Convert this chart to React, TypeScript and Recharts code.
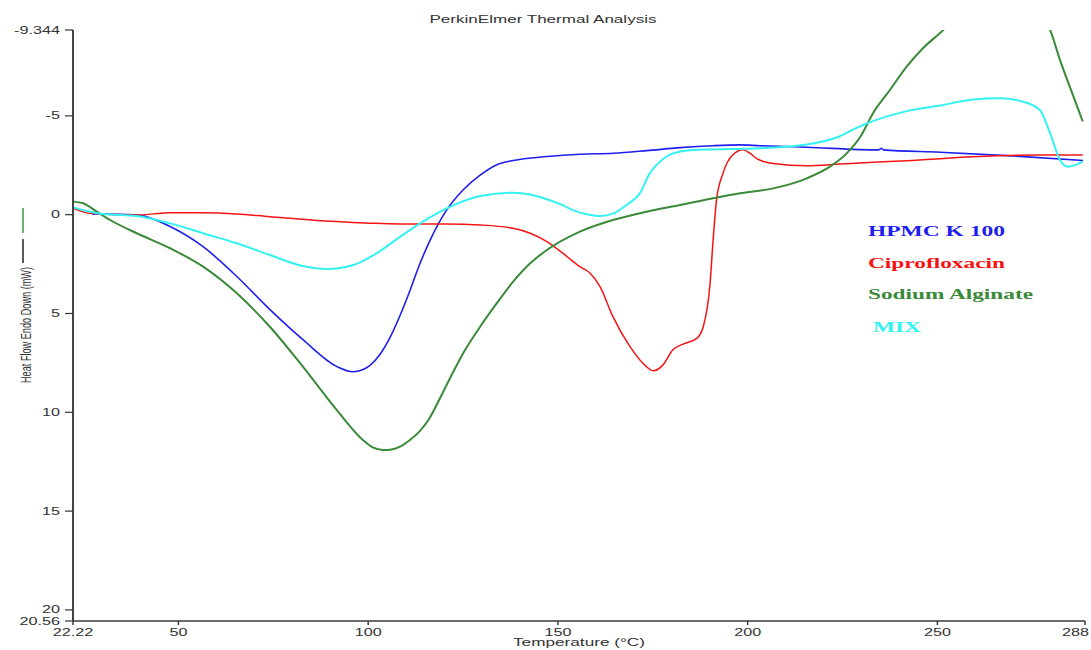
import { LineChart, Line, XAxis, YAxis, Legend } from "recharts";

// axis ticks (temperature in °C, heat flow in mW; y runs downwards = endo down)
const X_TICKS = [22.22, 50, 100, 150, 200, 250, 288.9];
const X_TICK_LABELS = ["22.22", "50", "100", "150", "200", "250", "288"];
const Y_TICKS = [-9.344, -5, 0, 5, 10, 15, 20, 20.56];
const Y_TICK_LABELS = ["-9.344", "-5", "0", "5", "10", "15", "20", "20.56"];

// HPMC K 100
const HPMC_T = [27.2, 39.1, 47.8, 56.5, 65.4, 74.2, 82.9, 91.8, 96.0, 98.5, 100.5, 103.2, 105.8, 108.4, 111.0, 113.5, 116.3, 120.7, 125.0, 129.5, 133.9, 138.2, 147.1, 155.9, 164.6, 173.4, 182.2, 190.9, 198.0, 203.3, 215.6, 234.6, 235.2, 235.8, 250.7, 268.3, 288.4];
const HPMC_Y = [-0.04, 0.02, 0.6, 1.62, 3.13, 4.82, 6.34, 7.69, 7.95, 7.85, 7.62, 7.05, 6.2, 5.1, 3.85, 2.55, 1.3, -0.24, -1.25, -2.0, -2.53, -2.74, -2.94, -3.06, -3.11, -3.24, -3.39, -3.49, -3.53, -3.49, -3.41, -3.28, -3.36, -3.28, -3.16, -2.99, -2.74];

// Ciprofloxacin
const CIPRO_T = [22.3, 26.7, 39.0, 47.8, 56.5, 65.4, 74.1, 82.8, 91.7, 100.5, 108.4, 120.7, 129.5, 138.2, 142.7, 147.1, 151.3, 155.8, 158.5, 161.1, 164.5, 169.0, 173.4, 175.1, 177.7, 180.3, 183.0, 186.6, 188.3, 190.1, 190.9, 191.8, 193.5, 196.1, 198.8, 200.6, 202.4, 206.7, 215.6, 224.3, 233.0, 241.9, 259.4, 277.0, 288.3];
const CIPRO_Y = [-0.32, -0.07, 0.02, -0.1, -0.1, -0.04, 0.1, 0.23, 0.35, 0.43, 0.47, 0.47, 0.52, 0.69, 0.94, 1.36, 1.95, 2.63, 2.96, 3.64, 5.16, 6.68, 7.7, 7.9, 7.6, 6.84, 6.55, 6.26, 5.67, 3.48, 1.28, -0.74, -2.09, -3.03, -3.28, -3.11, -2.84, -2.59, -2.48, -2.56, -2.65, -2.73, -2.93, -3.02, -3.02];

// Sodium Alginate (runs off the top of the scale between ~252 and ~280 °C)
const ALG_T = [22.3, 24.9, 28.5, 32.0, 39.0, 47.8, 56.5, 65.4, 74.1, 82.8, 91.7, 98.6, 101.2, 103.9, 106.2, 108.4, 111.0, 113.6, 116.0, 118.5, 121.5, 125.0, 129.5, 133.9, 138.2, 142.7, 147.1, 155.8, 164.5, 173.4, 182.2, 190.9, 198.0, 206.7, 215.6, 221.7, 226.1, 229.7, 233.0, 237.5, 241.9, 246.2, 251.6, 260.0, 270.0, 279.7, 282.3, 285.7, 288.3];
const ALG_Y = [-0.66, -0.58, -0.15, 0.27, 0.94, 1.7, 2.63, 3.98, 5.67, 7.69, 9.88, 11.4, 11.78, 11.91, 11.88, 11.74, 11.4, 10.95, 10.35, 9.45, 8.3, 7.02, 5.67, 4.48, 3.39, 2.46, 1.79, 0.86, 0.27, -0.15, -0.49, -0.83, -1.08, -1.33, -1.84, -2.43, -3.1, -3.94, -5.12, -6.31, -7.49, -8.42, -9.35, -11.2, -11.6, -9.35, -7.83, -6.06, -4.72];

// MIX
const MIX_T = [22.3, 26.7, 30.2, 39.0, 47.8, 56.5, 65.4, 74.1, 82.8, 89.1, 96.1, 102.2, 108.4, 113.7, 120.7, 129.5, 138.2, 142.7, 147.1, 150.8, 154.1, 157.6, 161.1, 164.5, 168.1, 171.6, 174.2, 176.9, 180.3, 185.6, 190.9, 203.3, 215.6, 224.3, 228.7, 233.0, 241.9, 250.7, 259.4, 266.5, 272.5, 277.0, 279.7, 282.3, 284.4, 288.3];
const MIX_Y = [-0.37, -0.15, -0.03, 0.07, 0.44, 0.94, 1.45, 2.04, 2.6, 2.75, 2.55, 1.96, 1.12, 0.44, -0.32, -0.95, -1.11, -1.02, -0.78, -0.52, -0.22, -0.02, 0.07, -0.05, -0.49, -1.08, -2.09, -2.68, -3.1, -3.27, -3.3, -3.36, -3.55, -3.97, -4.39, -4.73, -5.24, -5.52, -5.83, -5.89, -5.72, -5.3, -4.12, -2.77, -2.43, -2.68];

const SERIES = [
  { name: "HPMC K 100", color: "#1f1ff0", width: 1.6, t: HPMC_T, y: HPMC_Y },
  { name: "Ciprofloxacin", color: "#f51414", width: 1.5, t: CIPRO_T, y: CIPRO_Y },
  { name: "Sodium Alginate", color: "#3a8a3a", width: 2, t: ALG_T, y: ALG_Y },
  { name: "MIX", color: "#33f2f2", width: 2, t: MIX_T, y: MIX_Y },
];

const toRows = (t: number[], y: number[]) => t.map((temp, i) => ({ temp, flow: y[i] }));

const SANS = "'Liberation Sans', Arial, sans-serif";
const SERIF = "'Liberation Serif', 'Times New Roman', serif";
const STRETCH = 1.62; // the original picture is squashed sideways, glyphs come out wide

const XTick = ({ x, y, payload }: any) => {
  const i = X_TICKS.indexOf(payload.value);
  const last = i === X_TICKS.length - 1;
  return (
    <g transform={`translate(${last ? x + 4 : x},${y})`}>
      <text transform={`scale(${STRETCH},1)`} textAnchor={last ? "end" : "middle"} dy={9} fontSize={10} fill="#333" fontFamily={SANS}>
        {X_TICK_LABELS[i] ?? payload.value}
      </text>
    </g>
  );
};

const YTick = ({ x, y, payload }: any) => {
  const i = Y_TICKS.indexOf(payload.value);
  return (
    <g transform={`translate(${x},${y})`}>
      <text transform={`scale(${STRETCH},1)`} textAnchor="end" dy={3.5} fontSize={10} fill="#333" fontFamily={SANS}>
        {Y_TICK_LABELS[i] ?? payload.value}
      </text>
    </g>
  );
};

const LEGEND_LAYOUT: Record<string, { dx: number; base: number; len: number }> = {
  "HPMC K 100": { dx: 0, base: 21, len: 137 },
  Ciprofloxacin: { dx: 0, base: 53, len: 137 },
  "Sodium Alginate": { dx: 0, base: 84, len: 165 },
  MIX: { dx: 5, base: 117, len: 48 },
};

const LegendText = ({ payload }: any) => (
  <svg width={200} height={125}>
    {(payload || []).map((p: any) => {
      const l = LEGEND_LAYOUT[p.value];
      return (
        <text
          key={p.value}
          x={l.dx}
          y={l.base}
          fill={p.color}
          fontFamily={SERIF}
          fontWeight="bold"
          fontSize={14}
          textLength={l.len}
          lengthAdjust="spacingAndGlyphs"
        >
          {p.value}
        </text>
      );
    })}
  </svg>
);

export default function App() {
  return (
    <div style={{ position: "relative", width: 1091, height: 650, background: "#fff" }}>
      <style>{`body{margin:0;background:#fff}`}</style>
      <LineChart width={1091} height={650} margin={{ top: 30, right: 6, bottom: 0, left: 0 }}>
        <XAxis
          type="number"
          dataKey="temp"
          domain={[22.22, 288.9]}
          ticks={X_TICKS}
          interval={0}
          height={29}
          tickSize={4}
          tickMargin={2}
          tick={<XTick />}
          axisLine={{ stroke: "#3a3a3a", strokeWidth: 1.5 }}
          tickLine={{ stroke: "#3a3a3a", strokeWidth: 1.5 }}
          allowDataOverflow
        />
        <YAxis
          type="number"
          dataKey="flow"
          reversed
          domain={[-9.344, 20.56]}
          ticks={Y_TICKS}
          interval={0}
          width={73}
          tickSize={8}
          tickMargin={5}
          tick={<YTick />}
          axisLine={{ stroke: "#444", strokeWidth: 2 }}
          tickLine={{ stroke: "#333", strokeWidth: 1.2 }}
          allowDataOverflow
        />
        <Legend
          layout="vertical"
          align="center"
          verticalAlign="middle"
          content={<LegendText />}
          wrapperStyle={{ position: "absolute", left: 868, top: 215, width: 200, height: 125 }}
        />
        {SERIES.map((s) => (
          <Line
            key={s.name}
            name={s.name}
            data={toRows(s.t, s.y)}
            dataKey="flow"
            type="monotone"
            stroke={s.color}
            strokeWidth={s.width}
            dot={false}
            activeDot={false}
            isAnimationActive={false}
          />
        ))}
      </LineChart>
      <svg width={1091} height={650} style={{ position: "absolute", left: 0, top: 0, pointerEvents: "none" }}>
        <text x={543} y={23} textAnchor="middle" fontSize={10} fill="#333" fontFamily={SANS} textLength={227} lengthAdjust="spacingAndGlyphs">
          PerkinElmer Thermal Analysis
        </text>
        <text x={579} y={646} textAnchor="middle" fontSize={10} fill="#333" fontFamily={SANS} textLength={132} lengthAdjust="spacingAndGlyphs">
          Temperature (°C)
        </text>
        <text transform="translate(31,325) scale(1.65,1) rotate(-90)" textAnchor="middle" fontSize={9} fill="#333" fontFamily={SANS} textLength={116} lengthAdjust="spacingAndGlyphs">
          Heat Flow Endo Down (mW)
        </text>
        <line x1={23} y1={208} x2={23} y2={233} stroke="#3a9a3a" strokeWidth={1.5} />
        <line x1={23} y1={239} x2={23} y2={263} stroke="#222" strokeWidth={1.5} />
      </svg>
    </div>
  );
}
